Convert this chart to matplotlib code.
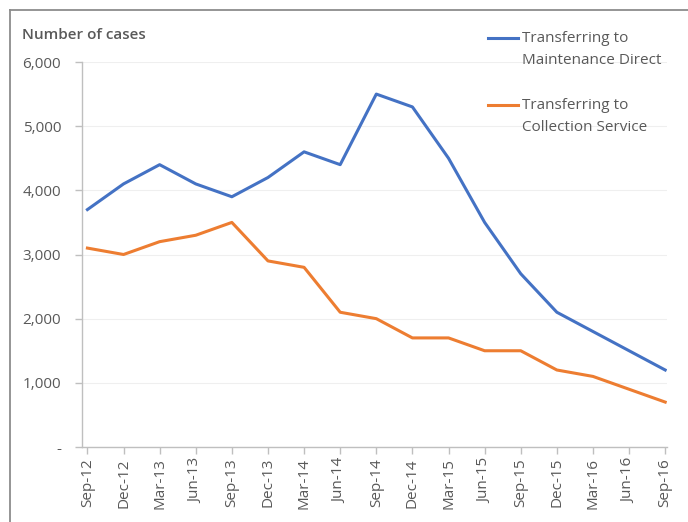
import matplotlib
matplotlib.use("Agg")
import matplotlib.pyplot as plt
from matplotlib.lines import Line2D

categories = ["Sep-12", "Dec-12", "Mar-13", "Jun-13", "Sep-13", "Dec-13", "Mar-14", "Jun-14",
              "Sep-14", "Dec-14", "Mar-15", "Jun-15", "Sep-15", "Dec-15", "Mar-16", "Jun-16", "Sep-16"]
maintenance_direct = [3700, 4100, 4400, 4100, 3900, 4200, 4600, 4400, 5500, 5300, 4500, 3500,
                      2700, 2100, 1800, 1500, 1200]
collection_service = [3100, 3000, 3200, 3300, 3500, 2900, 2800, 2100, 2000, 1700, 1700, 1500,
                      1500, 1200, 1100, 900, 700]
y_ticks = [0, 1000, 2000, 3000, 4000, 5000, 6000]
y_tick_labels = ["-", "1,000", "2,000", "3,000", "4,000", "5,000", "6,000"]
series_names = ["Transferring to\nMaintenance Direct", "Transferring to\nCollection Service"]

plt.rcParams['font.family'] = ['Open Sans', 'DejaVu Sans']
text_color = "#595959"
blue = "#4472C4"
orange = "#ED7D31"
fs = 11

W, H = 688, 522
fig = plt.figure(figsize=(W / 100, H / 100), dpi=100)
ax = fig.add_axes([82 / W, (H - 447) / H, (667 - 82) / W, (447 - 62) / H])

x = list(range(len(categories)))
ax.plot(x, maintenance_direct, color=blue, lw=2.2, solid_joinstyle="round")
ax.plot(x, collection_service, color=orange, lw=2.2, solid_joinstyle="round")

ax.set_xlim(-0.15, len(categories) - 1 + 0.05)
ax.set_ylim(0, 6000)
ax.set_yticks(y_ticks)
ax.set_yticklabels(y_tick_labels)
ax.set_xticks(x)
ax.set_xticklabels(categories, rotation=90)
ax.grid(axis="y", color="#efefef", lw=0.8)
ax.set_axisbelow(True)

for s in ["top", "right"]:
    ax.spines[s].set_visible(False)
for s in ["left", "bottom"]:
    ax.spines[s].set_color("#bfbfbf")
    ax.spines[s].set_linewidth(1.0)
ax.tick_params(axis="both", colors="#bfbfbf", labelcolor=text_color, labelsize=fs,
               length=5, width=1.0)
ax.tick_params(axis="y", pad=10)
ax.tick_params(axis="x", pad=3)

fig.text(22 / W, (H - 35) / H, "Number of cases", fontsize=fs, color=text_color,
         fontweight="semibold", va="center", ha="left")

# legend
for yy, col, name in [(38, blue, series_names[0]), (105, orange, series_names[1])]:
    fig.add_artist(Line2D([488 / W, 518 / W], [(H - yy) / H] * 2, color=col, lw=2.2,
                          transform=fig.transFigure))
    fig.text(522 / W, (H - yy + 7) / H, name, fontsize=fs, color=text_color,
             va="top", ha="left", linespacing=1.65)

# outer frame (top and left)
fig.add_artist(Line2D([10 / W, 1], [(H - 10) / H] * 2, color="#8c8c8c", lw=1.3,
                      transform=fig.transFigure))
fig.add_artist(Line2D([10 / W, 10 / W], [0, (H - 10) / H], color="#8c8c8c", lw=1.3,
                      transform=fig.transFigure))

fig.savefig("out.png", dpi=100)
